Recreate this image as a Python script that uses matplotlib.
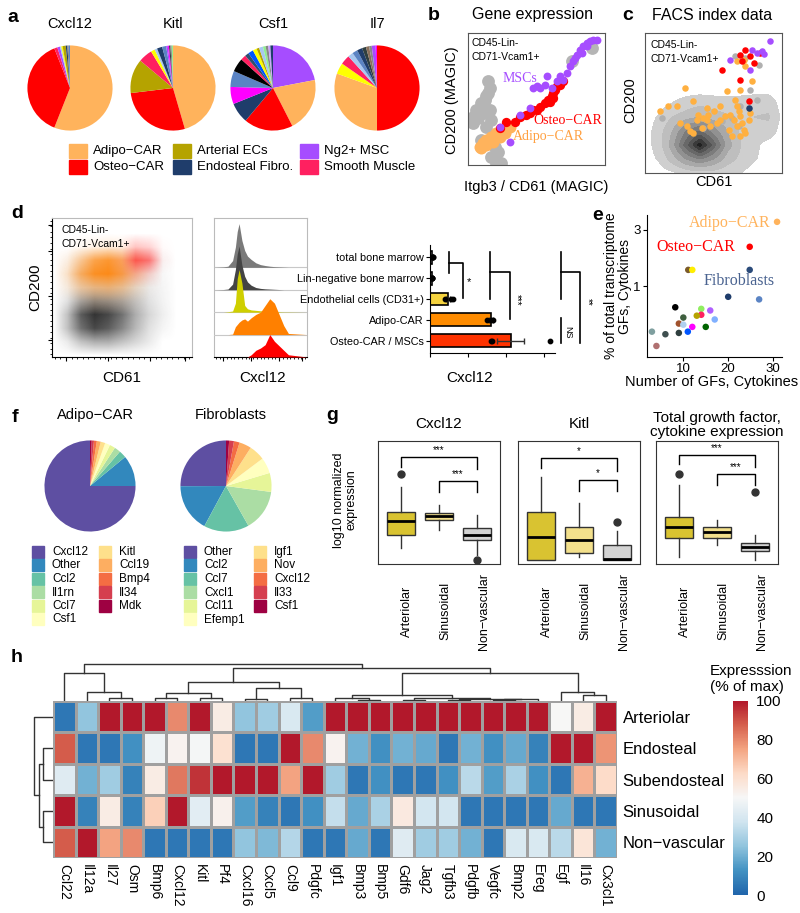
import matplotlib
matplotlib.use("Agg")
import matplotlib.pyplot as plt
import numpy as np
from matplotlib.patches import Rectangle
from matplotlib.colors import LinearSegmentedColormap, to_rgb

plt.rcParams["font.family"] = ["Liberation Sans", "DejaVu Sans"]
SERIF = ["Liberation Serif", "DejaVu Serif"]
NARROW = ["Liberation Sans Narrow", "Liberation Sans", "DejaVu Sans"]

W, H = 800, 913

# ---------------- data ----------------
# a: share of expression per cell type
ADIPO, OSTEO, ART, ENDO, NG2, SMM = "#FFB35C", "#FF0000", "#B5A300", "#1F3D6B", "#A64DFF", "#FF2060"
pie_genes = ["Cxcl12", "Kitl", "Csf1", "Il7"]
cxcl12_share = [56, 38, 1.2, 1.0, 0.5, 0.5, 1.2, 0.6, 0.5, 0.5]
cxcl12_cols = [ADIPO, OSTEO, SMM, NG2, "#A8C8F0", "#FFFF00", ART, ENDO, "#888888", "#5B84C4"]
kitl_share = [45.5, 27.6, 13, 5.3, 1.5, 1.0, 2.0, 1.5, 0.6, 0.5, 0.5, 0.5, 0.5]
kitl_cols = [ADIPO, OSTEO, ART, SMM, "#FFFF00", "#A8C8F0", ENDO, "#5B84C4", NG2, "#FF00FF", "#2F3F3F", "#888888", "#90EE90"]
csf1_share = [22, 20.5, 18.6, 7.8, 6.5, 6.1, 5.2, 2, 1.5, 2, 1.5, 1, 1.5, 1, 1, 0.8, 1]
csf1_cols = [NG2, ADIPO, OSTEO, ENDO, "#FF00FF", "#5B84C4", "#000000", SMM, "#2F4F6F", "#0055FF",
             "#FFFF00", ART, "#A8C8F0", "#90EE90", "#888888", "#C8A0FF", ENDO]
il7_share = [50, 30.5, 4.2, 3.6, 2, 2, 2, 1.5, 1.2, 1, 1.5, 0.5]
il7_cols = [OSTEO, ADIPO, "#FFFF00", SMM, "#A8C8F0", "#5B84C4", ENDO, "#2F3F3F", "#8B6F5A", "#888888", NG2, "#FF00FF"]
pie_legend = ["Adipo−CAR", "Osteo−CAR", "Arterial ECs", "Endosteal Fibro.", "Ng2+ MSC", "Smooth Muscle"]
pie_legend_cols = [ADIPO, OSTEO, ART, ENDO, NG2, SMM]

# b: MAGIC imputed expression (Itgb3, CD200), 0-100 scale
b_grey_x = [14.6, 15.9, 13.4, 9.8, 6.1, 3.7, 7.3, 11, 15.9, 17, 13.4, 18.3, 9.8, 15.9, 19.5, 22, 17, 20.7, 24.4, 12.2, 14.6, 3.7, 75.6, 90.2]
b_grey_y = [63.3, 58.2, 51.9, 46.8, 41.8, 36.7, 35.4, 39.2, 41.8, 34.2, 29.1, 21.5, 19, 16.5, 13.9, 10.1, 6.3, 1.3, 1.8, 49.4, 54.4, 31.6, 78.5, 88.6]
b_adipo_x = [8.5, 11, 13.4, 17, 20.7, 24.4, 28, 30.5, 9.8, 13.4, 18.3, 23.2, 26.8, 12.2]
b_adipo_y = [13.9, 16.5, 19, 21.5, 24.1, 26.1, 27.8, 29.1, 12.7, 15.2, 17.7, 21.5, 24.6, 17.7]
b_osteo_x = [23.2, 28, 34.1, 37.8, 42.7, 47.6, 52.4, 56.1, 58.5, 61, 62.2, 63.4, 64.6, 67.1, 69.5, 50, 45.1, 59.8, 62.2]
b_osteo_y = [27.8, 32.9, 32.9, 36.7, 38, 41.8, 44.3, 46.8, 49.4, 51.9, 54.4, 57, 59.5, 60.8, 63.3, 41.8, 39.2, 48.1, 50.6]
b_msc_x = [30.5, 23.2, 37.8, 45.1, 47.6, 57.3, 64.6, 69.5, 72, 74.4, 76.8, 79.3, 81.7, 84.1, 86.6, 89, 91.5, 93.9, 86.6, 82.9, 78, 61, 52.4, 56.1, 67.1, 50]
b_msc_y = [17.7, 29.1, 38, 43, 58.2, 67.1, 63.3, 64.6, 69.6, 74.7, 78.5, 83.5, 87.3, 89.9, 92.4, 93.7, 94.9, 94.9, 89.9, 84.8, 81, 58.2, 58.2, 60.8, 67.1, 59.5]

# c: FACS index data (CD61, CD200), 0-100 scale
c_adipo_x = [11, 17.1, 23.2, 29.3, 35.4, 39, 42.7, 46.3, 50, 54.9, 59.8, 65.9, 67.1, 68.3, 69.5, 70.7, 72, 73.2, 67.1, 64.6, 62.2, 58.5, 54.9, 52.4, 47.6, 45.1, 41.5, 35.4, 32.9, 75.6, 76.8, 78, 69.5, 73.2, 72, 67.1, 61, 63.4, 69.5, 37.8, 30.5, 45.1, 25.6]
c_adipo_y = [44, 47.6, 47.6, 60.7, 51.2, 41.7, 39.3, 41.7, 44, 47.6, 58.3, 52.4, 47.6, 44, 40.5, 35.7, 31, 28.6, 33.3, 38.1, 41.7, 40.5, 38.1, 35.7, 33.3, 38.1, 32.1, 28.6, 29.8, 38.1, 42.9, 65.5, 59.5, 76.2, 81, 79.8, 31, 26.2, 26.2, 38.1, 33.3, 46.4, 35.7]
c_grey_x = [12.2, 42.7, 63.4, 69.5, 76.8, 81.7, 68.3, 73.2, 82.9, 65.9, 56.1]
c_grey_y = [39.3, 32.1, 39.3, 47.6, 59.5, 52.4, 33.3, 82.1, 77.4, 83.3, 36.9]
c_osteo_x = [56.1, 69.5, 75.6, 70.7, 69.5, 76.8, 84.1, 79.3, 73.2]
c_osteo_y = [73.8, 66.7, 51.2, 79.8, 84.5, 83.3, 85.7, 78.6, 88.1]
c_msc_x = [62.2, 78, 81.7, 85.4, 91.5, 86.6, 76.8]
c_msc_y = [81, 88.1, 85.7, 86.9, 94, 85.2, 73.8]
c_fib_x = [75.6]
c_fib_y = [46.4]
# density of all cells (grid rows y = 0..100 step 10, cols x = 0..100 step 10)
c_density = [
    [0, 0, 0.3, 0.8, 1, 1, 0.8, 0.5, 0, 0, 0],
    [0, 0.6, 2, 3.5, 4.5, 3.5, 2, 1.2, 0.6, 0, 0],
    [0, 1, 3, 6, 9, 6, 3, 1.5, 0.8, 0, 0],
    [0, 1, 2.5, 4.5, 5.5, 4, 2.5, 1.3, 1.2, 1.2, 0],
    [0, 0.6, 1.5, 2, 2.5, 2, 1.6, 1.2, 1.5, 1.6, 0.3],
    [0, 0, 0.5, 0.9, 1.2, 1, 1, 1, 1.2, 1.2, 0],
    [0] * 11, [0] * 11, [0] * 11, [0] * 11, [0] * 11,
]

# d: flow cytometry densities (same grid layout)
d_grey = [
    [0] * 11,
    [0, .1, .3, .4, .4, .3, .2, .1, 0, 0, 0],
    [0, .3, .7, .9, .8, .6, .35, .15, .05, 0, 0],
    [0, .3, .8, 1, .9, .7, .4, .2, .08, 0, 0],
    [0, .15, .45, .6, .55, .45, .3, .15, .06, 0, 0],
    [0, .05, .15, .2, .2, .18, .15, .1, .05, 0, 0],
    [0, .03, .1, .12, .12, .12, .1, .08, .04, 0, 0],
    [0, .02, .05, .05, .06, .06, .06, .05, .03, 0, 0],
    [0] * 11, [0] * 11, [0] * 11,
]
d_orange = [
    [0] * 11, [0] * 11, [0] * 11, [0] * 11,
    [0, 0, .05, .1, .1, .08, .03, 0, 0, 0, 0],
    [0, .1, .3, .4, .45, .35, .15, .02, 0, 0, 0],
    [0, .2, .6, .85, .9, .7, .3, .05, 0, 0, 0],
    [0, .1, .4, .7, .8, .6, .25, .03, 0, 0, 0],
    [0, 0, .05, .1, .15, .1, .03, 0, 0, 0, 0],
    [0] * 11, [0] * 11,
]
d_red = [
    [0] * 11, [0] * 11, [0] * 11, [0] * 11, [0] * 11, [0] * 11,
    [0, 0, 0, 0, 0, .05, .2, .15, 0, 0, 0],
    [0, 0, 0, 0, 0, .1, .7, .6, .05, 0, 0],
    [0, 0, 0, 0, 0, .02, .25, .2, .02, 0, 0],
    [0] * 11, [0] * 11,
]
hist_names = ["total bone marrow", "Lin-negative bone marrow", "Endothelial cells (CD31+)", "Adipo-CAR", "Osteo-CAR / MSCs"]
hist_cols = ["#7A7A7A", "#444444", "#CFCF00", "#FF8000", "#FF0000"]
hist_x = [0, 10, 15, 20, 23, 25, 27, 30, 33, 36, 40, 45, 50, 55, 60, 65, 70, 75, 80, 100]
hist_tbm = [0, 0.02, 0.05, 0.3, 0.9, 1.6, 1.95, 1.2, 0.75, 0.5, 0.35, 0.2, 0.12, 0.08, 0.05, 0.03, 0.02, 0.01, 0, 0]
hist_lin = [0, 0.01, 0.03, 0.25, 0.9, 1.6, 1.95, 1.1, 0.6, 0.35, 0.2, 0.1, 0.06, 0.04, 0.03, 0.02, 0.01, 0, 0, 0]
hist_endo = [0, 0, 0.02, 0.05, 0.4, 1.5, 1.9, 1.3, 0.3, 0.15, 0.1, 0.08, 0.06, 0.05, 0.04, 0.03, 0.02, 0.01, 0.01, 0]
hist_adipo = [0, 0, 0, 0.02, 0.35, 0.45, 0.55, 0.65, 0.7, 0.6, 0.75, 0.9, 1.0, 1.3, 1.6, 1.4, 0.9, 0.4, 0.05, 0]
hist_osteo = [0, 0, 0, 0, 0, 0, 0, 0, 0, 0, 0.1, 0.3, 0.4, 0.55, 1.0, 0.7, 0.5, 0.3, 0.1, 0]
bar_means = [0.06, 0.05, 0.47, 1.6, 2.13]
bar_cols = ["#F2F2F2", "#DDDDDD", "#F5D33F", "#FF8C00", "#FF3300"]
bar_points = [[0.05, 0.07, 0.08, 0.06], [0.04, 0.05, 0.06, 0.05], [0.4, 0.55, 0.6], [1.5, 1.6, 1.65], [1.6, 1.63, 3.16]]
bar_err = [0.01, 0.01, 0.06, 0.05, 0.35]

# e: GF / cytokine repertoire per cell type
gf_counts = [30.9, 24.8, 24.8, 20, 26.9, 11.1, 12, 8.2, 14, 16, 14, 13, 10, 17, 9, 10, 12, 15, 11, 3, 9, 6, 4]
gf_percent = [3.5, 2.15, 1.37, 0.81, 0.77, 1.37, 1.37, 0.66, 0.64, 0.62, 0.57, 0.56, 0.54, 0.52, 0.48, 0.47, 0.45, 0.45, 0.41, 0.41, 0.40, 0.39, 0.31]
gf_colors = [ADIPO, OSTEO, "#2B4B7A", "#1F3D6B", "#5B84C4", "#7B5A2B", "#FFEE00", "#000000", "#90EE60", "#B060FF",
             "#FF2060", "#B5A300", "#3F5F3F", "#80B0FF", "#A0522D", "#B0D0F0", "#FF00FF", "#006400", "#0055FF",
             "#7F9F9F", "#2F3F3F", "#3F4F4F", "#B07070"]

# f: share of GF / cytokine transcripts
adipo_genes = ["Cxcl12", "Other", "Ccl2", "Il1rn", "Ccl7", "Csf1", "Kitl", "Ccl19", "Bmp4", "Il34", "Mdk"]
adipo_share = [75, 11, 2.6, 2.2, 2, 1.8, 1.6, 1.4, 1, 0.8, 0.6]
fib_genes = ["Other", "Ccl2", "Ccl7", "Cxcl1", "Ccl11", "Efemp1", "Igf1", "Nov", "Cxcl12", "Il33", "Csf1"]
fib_share = [25, 17, 16, 14.7, 6.7, 5.6, 5.6, 4.3, 2, 1.7, 1.1]
spectral = ["#5E4FA2", "#3288BD", "#66C2A5", "#ABDDA4", "#E6F598", "#FFFFBF", "#FEE08B", "#FDAE61", "#F46D43", "#D53E4F", "#9E0142"]

# g: box statistics (log10 normalized expression, arbitrary units)
niches = ["Arteriolar", "Sinusoidal", "Non−vascular"]
box_fill = ["#D9C331", "#F3E08C", "#D3D3D3"]
cxcl12_box = [(1.3, 2.36, 3.5, 4.23, 6.26, [7.3]), (2.76, 3.58, 3.9, 4.15, 4.8, []), (0.73, 1.95, 2.36, 2.93, 3.98, [0.33])]
kitl_box = [(0.33, 0.33, 2.2, 4.23, 7.07, []), (0.57, 0.9, 1.95, 3.0, 4.96, []), (0.33, 0.33, 0.4, 1.54, 2.68, [3.41])]
total_box = [(0.57, 2.1, 3.0, 3.8, 6.4, [7.3]), (1.54, 2.1, 2.6, 3.0, 3.58, []), (0.33, 1.06, 1.38, 1.7, 2.36, [5.85])]
box_titles = ["Cxcl12", "Kitl", "Total growth factor,\ncytokine expression"]
sig_marks = [("***", "***"), ("*", "*"), ("***", "***")]
sig_heights = [(8.7, 6.75), (8.6, 6.8), (8.9, 7.3)]

# h: expression (% of max) per niche
h_genes = ["Ccl22", "Il12a", "Il27", "Osm", "Bmp6", "Cxcl12", "Kitl", "Pf4", "Cxcl16", "Cxcl5", "Ccl9", "Pdgfc", "Igf1",
           "Bmp3", "Bmp5", "Gdf6", "Jag2", "Tgfb3", "Pdgfb", "Vegfc", "Bmp2", "Ereg", "Egf", "Il16", "Cx3cl1"]
h_niches = ["Arteriolar", "Endosteal", "Subendosteal", "Sinusoidal", "Non−vascular"]
arteriolar = [5, 25, 100, 100, 100, 80, 100, 55, 25, 28, 40, 15, 100, 100, 100, 100, 100, 100, 100, 100, 100, 100, 50, 55, 100]
endosteal = [88, 5, 5, 12, 47, 52, 49, 60, 5, 5, 100, 80, 52, 20, 12, 20, 18, 5, 20, 12, 18, 8, 100, 100, 78]
subendosteal = [42, 20, 28, 8, 55, 83, 95, 100, 100, 100, 75, 100, 28, 5, 12, 5, 5, 12, 33, 15, 30, 12, 5, 72, 62]
sinusoidal = [100, 8, 55, 8, 65, 100, 43, 53, 15, 8, 5, 12, 35, 18, 30, 56, 38, 38, 5, 5, 5, 5, 18, 5, 5]
nonvascular = [88, 100, 75, 80, 5, 5, 5, 5, 25, 22, 32, 5, 5, 18, 5, 42, 28, 28, 20, 5, 40, 40, 33, 58, 20]
# dendrograms: (node a, node b, height); new nodes numbered after the leaves
col_links = [(2, 3, 3), (1, 25, 9), (0, 26, 28), (4, 5, 3), (6, 7, 3), (28, 29, 8), (8, 9, 2), (10, 11, 3),
             (31, 32, 13), (30, 33, 19), (13, 14, 1.5), (12, 35, 3), (15, 16, 1.5), (17, 18, 1.5), (19, 20, 1.5),
             (39, 21, 2), (38, 40, 2.5), (37, 41, 3), (36, 42, 6), (23, 24, 6), (22, 44, 9), (43, 45, 28),
             (34, 46, 33), (27, 47, 37)]
row_links = [(1, 2, 10), (3, 4, 10), (5, 6, 14), (0, 7, 19)]


# ---------------- helpers ----------------
fig = plt.figure(figsize=(8, 9.13), dpi=100)


def box(l, t, r, b):
    return fig.add_axes([l / W, 1 - b / H, (r - l) / W, (b - t) / H])


def upsample(grid, k):
    g = np.asarray(grid, float)
    n0, n1 = g.shape
    y0 = np.arange(n0)
    x0 = np.arange(n1)
    yn = np.linspace(0, n0 - 1, (n0 - 1) * k + 1)
    xn = np.linspace(0, n1 - 1, (n1 - 1) * k + 1)
    tmp = np.array([np.interp(xn, x0, row) for row in g])
    return np.array([np.interp(yn, y0, col) for col in tmp.T]).T


def density_image(ax, grid, color):
    d = upsample(grid, 4)
    rgba = np.zeros(d.shape + (4,))
    rgba[..., :3] = to_rgb(color)
    rgba[..., 3] = np.clip(d, 0, 1)
    ax.imshow(rgba, origin="lower", extent=(0, 100, 0, 100), interpolation="bilinear", aspect="auto")


def dendro(ax, links, n, vertical=False):
    pos = {i: i + 0.5 for i in range(n)}
    hgt = {i: 0.0 for i in range(n)}
    for k, (a, b, h) in enumerate(links):
        xs = [pos[a], pos[a], pos[b], pos[b]]
        ys = [hgt[a], h, h, hgt[b]]
        if vertical:
            ax.plot(ys, xs, color="#333333", lw=1)
        else:
            ax.plot(xs, ys, color="#333333", lw=1)
        pos[n + k] = (pos[a] + pos[b]) / 2
        hgt[n + k] = h


def pie_axes(cx, cy, r):
    ax = box(cx - r, cy - r, cx + r, cy + r)
    return ax


canvas = fig.add_axes([0, 0, 1, 1], zorder=10)
canvas.set_xlim(0, W)
canvas.set_ylim(H, 0)
canvas.axis("off")
canvas.patch.set_visible(False)


def label(x, y, s, **kw):
    canvas.text(x, y, s, **kw)


for x, y, s in [(13, 17, "a"), (434, 15, "b"), (628, 15, "c"), (17, 213, "d"), (598, 215, "e"),
                (15, 417, "f"), (332, 415, "g"), (17, 657, "h")]:
    label(x, y, s, fontsize=14, fontweight="bold", ha="center", va="center")

# ---------------- a ----------------
pie_centers = [70, 173, 273, 377]
pie_data = [(cxcl12_share, cxcl12_cols), (kitl_share, kitl_cols), (csf1_share, csf1_cols), (il7_share, il7_cols)]
for cx, gene, (share, cols) in zip(pie_centers, pie_genes, pie_data):
    ax = pie_axes(cx, 88, 43)
    ax.pie(share, colors=cols, startangle=90, counterclock=False, wedgeprops=dict(linewidth=0))
    ax.set_xlim(-1.01, 1.01)
    ax.set_ylim(-1.01, 1.01)
    label(cx, 24, gene, fontsize=10.5, ha="center", va="center")
for i, (name, col) in enumerate(zip(pie_legend, pie_legend_cols)):
    lx = [69, 173, 300][i // 2]
    ly = [151, 167][i % 2]
    canvas.add_patch(Rectangle((lx, ly - 7), 18, 14, color=col))
    label(lx + 24, ly, name, fontsize=9.5, va="center")

# ---------------- b ----------------
ax = box(468, 33, 605, 165)
ax.scatter(b_grey_x, b_grey_y, s=85, color="#B5B5B5", lw=0)
ax.scatter(b_adipo_x, b_adipo_y, s=75, color="#FFB35C", lw=0)
ax.scatter(b_osteo_x, b_osteo_y, s=45, color="#FF0000", lw=0)
ax.scatter(b_msc_x, b_msc_y, s=32, color="#A64DFF", lw=0)
ax.set_xlim(0, 100)
ax.set_ylim(0, 100)
ax.set_xticks([])
ax.set_yticks([])
for sp in ax.spines.values():
    sp.set_color("#555555")
ax.text(2.5, 96, "CD45-Lin-\nCD71-Vcam1+", fontsize=7.5, va="top", linespacing=1.5)
ax.text(37.8, 65.8, "MSCs", color="#A64DFF", fontsize=10, family=SERIF, ha="center", va="center")
ax.text(73.2, 33.7, "Osteo−CAR", color="#FF0000", fontsize=10, family=SERIF, ha="center", va="center")
ax.text(58.5, 21.5, "Adipo−CAR", color="#FFA040", fontsize=10, family=SERIF, ha="center", va="center")
label(532, 15, "Gene expression", fontsize=11.5, ha="center", va="center")
label(452, 100, "CD200 (MAGIC)", fontsize=10.5, ha="center", va="center", rotation=90)
label(536, 187, "Itgb3 / CD61 (MAGIC)", fontsize=10.5, ha="center", va="center")

# ---------------- c ----------------
ax = box(645, 33, 782, 173)
dens = upsample(c_density, 5)
gx = np.linspace(0, 100, dens.shape[1])
gy = np.linspace(0, 100, dens.shape[0])
ax.contourf(gx, gy, dens, levels=np.arange(0.5, 10, 1), cmap="Greys", vmin=-3, vmax=10.5)
ax.scatter(c_grey_x, c_grey_y, s=22, color="#B0B0B0", lw=0)
ax.scatter(c_adipo_x, c_adipo_y, s=22, color="#FFB040", lw=0)
ax.scatter(c_osteo_x, c_osteo_y, s=22, color="#FF0000", lw=0)
ax.scatter(c_msc_x, c_msc_y, s=22, color="#A64DFF", lw=0)
ax.scatter(c_fib_x, c_fib_y, s=22, color="#1F3D6B", lw=0)
ax.set_xlim(0, 100)
ax.set_ylim(0, 100)
ax.set_xticks([])
ax.set_yticks([])
for sp in ax.spines.values():
    sp.set_color("#555555")
ax.text(4, 95, "CD45-Lin-\nCD71-Vcam1+", fontsize=7.5, va="top", linespacing=1.5)
label(712, 15, "FACS index data", fontsize=11.5, ha="center", va="center")
label(630, 100, "CD200", fontsize=10.5, ha="center", va="center", rotation=90)
label(714, 182, "CD61", fontsize=10.5, ha="center", va="center")

# ---------------- d ----------------
ax = box(52, 218, 192, 357)
density_image(ax, d_grey, "#333333")
density_image(ax, d_orange, "#FF8000")
density_image(ax, d_red, "#FF2020")
ax.set_xlim(0, 100)
ax.set_ylim(0, 100)
ax.spines["top"].set_color("#BBBBBB")
ax.spines["right"].set_color("#BBBBBB")
ax.set_xticks([10, 40, 70, 95])
ax.set_yticks([12, 44, 76, 95])
ax.set_xticks(np.arange(2, 100, 4), minor=True)
ax.set_yticks(np.arange(2, 100, 4), minor=True)
ax.tick_params(length=3, labelbottom=False, labelleft=False)
ax.tick_params(which="minor", length=1.5)
ax.text(7, 95, "CD45-Lin-\nCD71-Vcam1+", fontsize=7.5, va="top", linespacing=1.5)
label(35, 287, "CD200", fontsize=11, ha="center", va="center", rotation=90)
label(122, 378, "CD61", fontsize=11, ha="center", va="center")

ax = box(214, 218, 307, 357)
hist_rows = [hist_tbm, hist_lin, hist_endo, hist_adipo, hist_osteo]
for i, (vals, col) in enumerate(zip(hist_rows, hist_cols)):
    base = 4 - i
    ax.fill_between(hist_x, base, base + np.asarray(vals), color=col, lw=0, zorder=2 + i)
    ax.axhline(base, color="#C8C8C8", lw=0.8, zorder=1 + i)
ax.set_xlim(0, 100)
ax.set_ylim(0, 6.2)
ax.set_yticks([])
ax.set_xticks([10, 40, 70, 95])
ax.set_xticks(np.arange(2, 100, 4), minor=True)
ax.tick_params(length=3, labelbottom=False)
ax.tick_params(which="minor", length=1.5)
for s in ["top", "right", "left"]:
    ax.spines[s].set_color("#BBBBBB")
label(263, 378, "Cxcl12", fontsize=11, ha="center", va="center")

ax = box(430, 245, 555, 353)
ypos = np.arange(5)
ax.barh(ypos, bar_means, height=0.62, color=bar_cols, edgecolor="black", lw=1.2)
for i, pts in enumerate(bar_points):
    ax.scatter(pts, [i] * len(pts), s=10, color="black", zorder=3)
    ax.errorbar(bar_means[i], i, xerr=bar_err[i], color="#333333", capsize=2, lw=1)
ax.set_ylim(4.6, -0.6)
ax.set_xlim(0, 3.3)
ax.set_yticks(ypos)
ax.set_yticklabels(hist_names, family=NARROW, fontsize=7.8)
ax.set_xticks([0, 1, 2, 3])
ax.tick_params(labelbottom=False, length=3, pad=1.5)
ax.spines["top"].set_visible(False)
ax.spines["right"].set_visible(False)
label(470, 378, "Cxcl12", fontsize=11, ha="center", va="center")
# significance brackets
for xs, ys in [([449, 449], [252, 273]), ([449, 463, 463], [263, 263, 298]),
               ([490, 490], [252, 299]), ([490, 510, 510], [272, 272, 319]),
               ([561, 561], [252, 299]), ([561, 580, 580], [272, 272, 343]), ([561, 561], [318, 343])]:
    canvas.plot(xs, ys, color="black", lw=1.2)
label(469, 282, "*", fontsize=8, ha="center", va="center")
label(517, 300, "***", fontsize=7, ha="center", va="center", rotation=-90)
label(588, 302, "**", fontsize=7, ha="center", va="center", rotation=-90)
label(568, 332, "NS", fontsize=6.5, ha="center", va="center", rotation=-90)

# ---------------- e ----------------
ax = box(647, 215, 782, 357)
ax.scatter(gf_counts, gf_percent, s=22, c=gf_colors, lw=0)
ax.set_yscale("log")
ax.set_ylim(0.25, 4.0)
ax.set_xlim(1.9, 32)
ax.set_yticks([1, 3])
ax.set_yticklabels(["1", "3"])
ax.yaxis.set_minor_locator(matplotlib.ticker.NullLocator())
ax.set_xticks([10, 20, 30])
ax.tick_params(labelsize=9.5, length=3, pad=1.5)
ax.spines["top"].set_visible(False)
ax.spines["right"].set_visible(False)
ax.text(29.5, 3.45, "Adipo−CAR", color="#FFB35C", fontsize=11.5, family=SERIF, ha="right", va="center")
ax.text(12.7, 2.15, "Osteo−CAR", color="#FF0000", fontsize=11.5, family=SERIF, ha="center", va="center")
ax.text(22.4, 1.1, "Fibroblasts", color="#4A6390", fontsize=11.5, family=SERIF, ha="center", va="center")
label(618, 286, "% of total transcriptome\nGFs, Cytokines", fontsize=10, ha="center", va="center",
      rotation=90, linespacing=0.95)
label(712, 382, "Number of GFs, Cytokines", fontsize=10.5, ha="center", va="center")

# ---------------- f ----------------
for cx, title, share in [(90, "Adipo−CAR", adipo_share), (226, "Fibroblasts", fib_share)]:
    ax = pie_axes(cx, 486, 46)
    ax.pie(share, colors=spectral, startangle=90, counterclock=True, wedgeprops=dict(linewidth=0))
    ax.set_xlim(-1.01, 1.01)
    ax.set_ylim(-1.01, 1.01)
    label(cx + 5, 415, title, fontsize=10.5, ha="center", va="center")
for names, cols_x in [(adipo_genes, (32, 99)), (fib_genes, (184, 254))]:
    for i, (name, col) in enumerate(zip(names, spectral)):
        lx = cols_x[0] if i < 6 else cols_x[1]
        ly = 552 + 13.5 * (i % 6)
        canvas.add_patch(Rectangle((lx, ly - 6), 12, 12, color=col))
        label(lx + 20, ly, name, fontsize=8.5, va="center")

# ---------------- g ----------------
g_lefts = [378, 518, 656]
for left, stats, title, marks, hs in zip(g_lefts, [cxcl12_box, kitl_box, total_box], box_titles, sig_marks, sig_heights):
    ax = box(left, 441, left + 122, 564)
    bstats = [dict(whislo=s[0], q1=s[1], med=s[2], q3=s[3], whishi=s[4], fliers=s[5]) for s in stats]
    bp = ax.bxp(bstats, positions=[1, 2, 3], widths=0.75, patch_artist=True, showcaps=False,
                medianprops=dict(color="black", lw=2), whiskerprops=dict(color="#333333", lw=1),
                boxprops=dict(edgecolor="#333333", lw=1),
                flierprops=dict(marker="o", markerfacecolor="#333333", markeredgecolor="#333333", markersize=5))
    for patch, col in zip(bp["boxes"], box_fill):
        patch.set_facecolor(col)
    ax.set_xlim(0.4, 3.6)
    ax.set_ylim(0, 10)
    ax.set_xticks([])
    ax.set_yticks([])
    for sp in ax.spines.values():
        sp.set_color("#333333")
    h1, h2 = hs
    ax.plot([1, 1, 3, 3], [h1 - 0.8, h1, h1, h1 - 1.0], color="black", lw=1)
    ax.plot([2, 2, 3, 3], [h2 - 0.9, h2, h2, h2 - 0.9], color="black", lw=1)
    ax.text(2, h1 + 0.15, marks[0], ha="center", va="bottom", fontsize=7)
    ax.text(2.5, h2 + 0.15, marks[1], ha="center", va="bottom", fontsize=7)
    for j, nm in enumerate(niches):
        label(left + 29 + 38.5 * j, 611, nm, fontsize=9, rotation=90, ha="center", va="center")
    label(left + 61, 424 if "\n" not in title else 425, title, fontsize=11, ha="center", va="center",
          linespacing=1.0)
label(345, 500, "log10 normalized\nexpression", fontsize=9, rotation=90, ha="center", va="center", linespacing=1.0)

# ---------------- h ----------------
heat = np.array([arteriolar, endosteal, subendosteal, sinusoidal, nonvascular])
rdbu = LinearSegmentedColormap.from_list("rdbu", ["#2166AC", "#4393C3", "#92C5DE", "#D1E5F0", "#F7F7F7",
                                                  "#FDDBC7", "#F4A582", "#D6604D", "#B2182B"])
ax = box(53, 701, 617, 858)
ax.pcolormesh(heat, cmap=rdbu, vmin=0, vmax=100, edgecolors="#A0A0A0", linewidth=1)
ax.set_xlim(0, len(h_genes))
ax.set_ylim(len(h_niches), 0)
ax.set_xticks(np.arange(len(h_genes)) + 0.5)
ax.set_xticklabels(h_genes, rotation=-90, fontsize=10)
ax.set_yticks(np.arange(len(h_niches)) + 0.5)
ax.set_yticklabels(h_niches, fontsize=12)
ax.yaxis.tick_right()
ax.tick_params(length=0, pad=4)
for sp in ax.spines.values():
    sp.set_visible(False)

ax = box(53, 653, 617, 701)
dendro(ax, col_links, len(h_genes))
ax.set_xlim(0, len(h_genes))
ax.set_ylim(0, 48)
ax.axis("off")

ax = box(28, 701, 53, 858)
dendro(ax, row_links, len(h_niches), vertical=True)
ax.set_xlim(25, 0)
ax.set_ylim(len(h_niches), 0)
ax.axis("off")

ax = box(733, 701, 748, 895)
ax.imshow(np.linspace(100, 0, 200)[:, None], cmap=rdbu, aspect="auto", extent=(0, 1, 0, 100), vmin=0, vmax=100)
ax.set_xticks([])
ax.yaxis.tick_right()
ax.set_yticks([0, 20, 40, 60, 80, 100])
ax.tick_params(length=0, labelsize=11, pad=6)
for sp in ax.spines.values():
    sp.set_visible(False)
label(710, 679, "Expresssion\n(% of max)", fontsize=11, va="center", linespacing=1.1)

fig.savefig("out.png", dpi=100)
